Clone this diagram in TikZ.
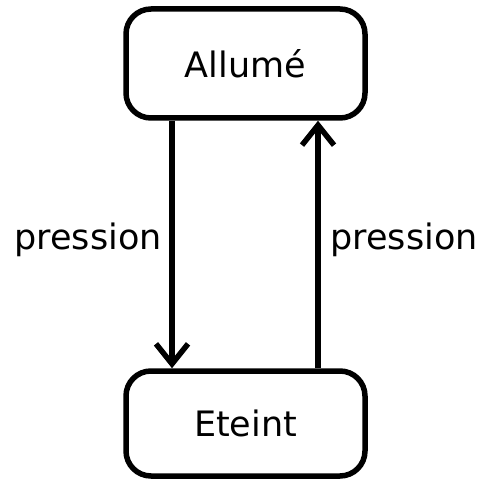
\documentclass[tikz,border=0pt]{standalone}
\usepackage{fontspec}
\setmainfont{DejaVu Sans}
\usetikzlibrary{arrows.meta}
\begin{document}
\begin{tikzpicture}[x=1pt,y=-1pt,
  state/.style={draw,line width=5.5pt,rounded corners=25pt,minimum width=239pt,minimum height=107pt,inner sep=0pt,font=\fontsize{35}{40}\selectfont},
  conn/.style={line width=5.5pt,-{Straight Barb[length=20pt,width=32pt,line width=5.5pt]}},
  lbl/.style={font=\fontsize{35}{40}\selectfont,inner sep=0pt}]
\useasboundingbox (0,0) rectangle (485,481);
\node[state,minimum height=109pt] (on) at (245.5,63.5) {Allumé};
\node[state,minimum height=105pt] (off) at (245.5,423.5) {Eteint};
\draw[conn] (on.south -| 172,0) -- (off.north -| 172,0);
\draw[conn] (off.north -| 318,0) -- (on.south -| 318,0);
\node[lbl] (l1) at (88,240) {pression};
\node[lbl] (l2) at (404,240) {pression};
\end{tikzpicture}
\end{document}
